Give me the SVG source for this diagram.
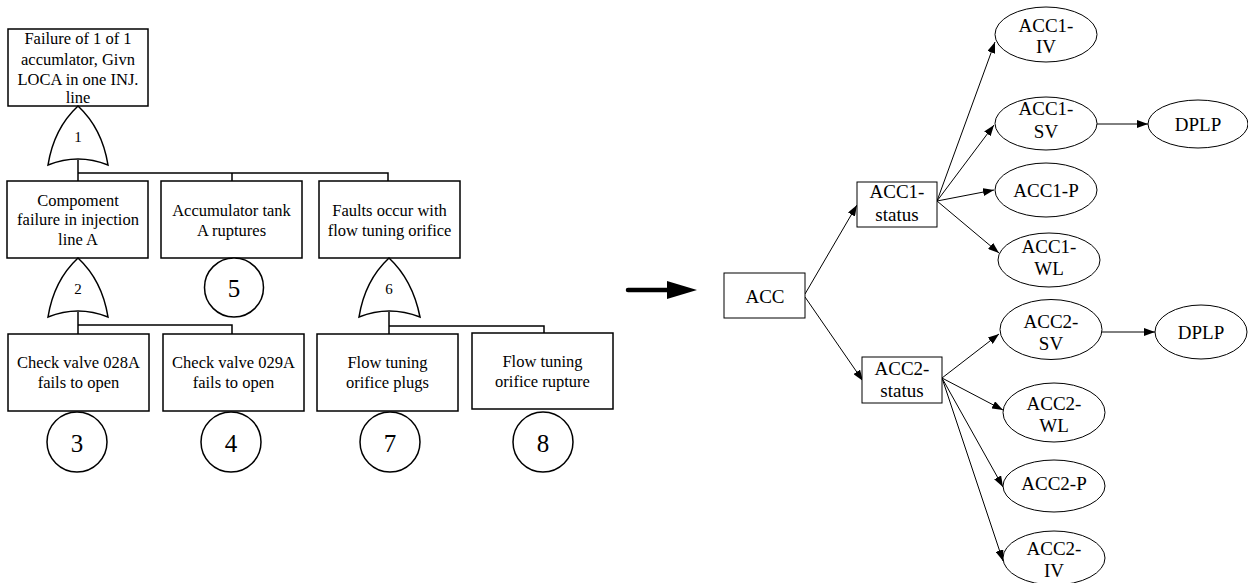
<svg xmlns="http://www.w3.org/2000/svg" width="1248" height="583" viewBox="0 0 1248 583">
<style>
.ft rect,.ft circle,.ft path{fill:#fff;stroke:#000;stroke-width:1.5}
.ft text{font-family:"Liberation Serif","Times New Roman",serif;font-size:16.5px;text-anchor:middle;fill:#000}
.ft text.num{font-size:25px}
.ft text.g{font-size:15px}
.tl{fill:none;stroke:#000;stroke-width:1.5}
.gn rect,.gn ellipse{fill:#fff;stroke:#000;stroke-width:1}
.gn text{font-family:"Liberation Serif","Times New Roman",serif;font-size:19px;text-anchor:middle;fill:#000}
.ed line{stroke:#000;stroke-width:1;marker-end:url(#ah)}
</style>
<defs>
<marker id="ah" markerUnits="userSpaceOnUse" markerWidth="11" markerHeight="8" refX="11" refY="4" orient="auto">
<path d="M0,0 L11,4 L0,8 z" fill="#000"/>
</marker>
</defs>

<!-- fault tree connectors -->
<g id="ft-connectors">
<path class="tl" d="M78,160 V181 M78,173 H388 V181 M232,173 V181"/>
<path class="tl" d="M78,312 V334 M78,325 H232 V334"/>
<path class="tl" d="M389,312 V334 M389,326 H544 V333"/>
</g>

<g id="ft-top" class="ft">
<rect x="8" y="29" width="140" height="77"/>
<text x="78" y="44">Failure of 1 of 1</text>
<text x="78" y="65">accumlator, Givn</text>
<text x="78" y="85">LOCA in one INJ.</text>
<text x="78" y="103">line</text>
</g>
<g id="ft-gate1" class="ft">
<path d="M78,106 C93,120 104,140 108,165 Q78,153 48,165 C52,140 63,120 78,106 Z"/>
<text class="g" x="78" y="142">1</text>
</g>
<g id="ft-comp" class="ft">
<rect x="7" y="181" width="141" height="77"/>
<text x="78" y="206">Compoment</text>
<text x="78" y="225">failure in injection</text>
<text x="78" y="245">line A</text>
</g>
<g id="ft-tank" class="ft">
<rect x="161" y="181" width="141" height="77"/>
<text x="231.5" y="216">Accumulator tank</text>
<text x="231.5" y="236">A ruptures</text>
</g>
<g id="ft-faults" class="ft">
<rect x="319" y="181" width="141" height="77"/>
<text x="389.5" y="216">Faults occur with</text>
<text x="389.5" y="236">flow tuning orifice</text>
</g>
<g id="ft-gate2" class="ft">
<path d="M78,258 C93,272 104,292 108,317 Q78,305 48,317 C52,292 63,272 78,258 Z"/>
<text class="g" x="78" y="294">2</text>
</g>
<g id="ft-e5" class="ft">
<circle cx="234" cy="287.5" r="29.5"/>
<text class="num" x="234" y="297">5</text>
</g>
<g id="ft-gate6" class="ft">
<path d="M389,258 C404,272 415,292 420,317 Q389,305 359,317 C363,292 374,272 389,258 Z"/>
<text class="g" x="389" y="294">6</text>
</g>
<g id="ft-cv028" class="ft">
<rect x="8" y="334" width="141" height="77"/>
<text x="78.5" y="368">Check valve 028A</text>
<text x="78.5" y="388">fails to open</text>
</g>
<g id="ft-cv029" class="ft">
<rect x="163" y="334" width="141" height="77"/>
<text x="233.5" y="368">Check valve 029A</text>
<text x="233.5" y="388">fails to open</text>
</g>
<g id="ft-plugs" class="ft">
<rect x="317" y="334" width="141" height="77"/>
<text x="387.5" y="368">Flow tuning</text>
<text x="387.5" y="388">orifice plugs</text>
</g>
<g id="ft-rupture" class="ft">
<rect x="472" y="333" width="141" height="76"/>
<text x="542.5" y="367">Flow tuning</text>
<text x="542.5" y="387">orifice rupture</text>
</g>
<g id="ft-e3" class="ft"><circle cx="77" cy="442" r="30"/><text class="num" x="77" y="452">3</text></g>
<g id="ft-e4" class="ft"><circle cx="231" cy="442" r="30"/><text class="num" x="231" y="452">4</text></g>
<g id="ft-e7" class="ft"><circle cx="390" cy="442" r="30"/><text class="num" x="390" y="452">7</text></g>
<g id="ft-e8" class="ft"><circle cx="543" cy="442" r="30"/><text class="num" x="543" y="452">8</text></g>

<!-- big transform arrow -->
<g id="big-arrow">
<line x1="628" y1="290" x2="668" y2="290" stroke="#000" stroke-width="4.5" stroke-linecap="round"/>
<path d="M667,281 L697,290 L667,299 Z" fill="#000"/>
</g>

<!-- graph connectors -->
<g id="connectors" class="ed">
<line x1="805" y1="294" x2="857" y2="205"/>
<line x1="805" y1="297" x2="863" y2="381"/>
<line x1="937" y1="201" x2="995" y2="42"/>
<line x1="937" y1="201" x2="994" y2="125"/>
<line x1="937" y1="201" x2="994" y2="190"/>
<line x1="937" y1="201" x2="999" y2="253"/>
<line x1="1097" y1="124" x2="1148" y2="124"/>
<line x1="942" y1="378" x2="999" y2="334"/>
<line x1="942" y1="378" x2="1003" y2="410"/>
<line x1="942" y1="378" x2="1003" y2="487"/>
<line x1="942" y1="378" x2="1003" y2="561"/>
<line x1="1102" y1="332" x2="1155" y2="332"/>
</g>

<g id="acc" class="gn"><rect x="724" y="273" width="81" height="45"/><text x="765" y="303">ACC</text></g>
<g id="acc1-status" class="gn"><rect x="857" y="182" width="80" height="45"/><text x="897" y="198">ACC1-</text><text x="897" y="221">status</text></g>
<g id="acc2-status" class="gn"><rect x="862" y="357" width="80" height="46"/><text x="902" y="375">ACC2-</text><text x="902" y="397">status</text></g>
<g id="acc1-iv" class="gn"><ellipse cx="1046" cy="34.5" rx="51" ry="27.5"/><text x="1046" y="32">ACC1-</text><text x="1046" y="53">IV</text></g>
<g id="acc1-sv" class="gn"><ellipse cx="1046" cy="123.5" rx="51" ry="26.5"/><text x="1046" y="115">ACC1-</text><text x="1046" y="138">SV</text></g>
<g id="dplp1" class="gn"><ellipse cx="1198" cy="124" rx="50" ry="24"/><text x="1198" y="131">DPLP</text></g>
<g id="acc1-p" class="gn"><ellipse cx="1046" cy="190" rx="51" ry="27"/><text x="1046" y="197">ACC1-P</text></g>
<g id="acc1-wl" class="gn"><ellipse cx="1049" cy="260" rx="51" ry="27"/><text x="1049" y="253">ACC1-</text><text x="1049" y="275">WL</text></g>
<g id="acc2-sv" class="gn"><ellipse cx="1051" cy="329.5" rx="51" ry="30"/><text x="1051" y="328">ACC2-</text><text x="1051" y="350">SV</text></g>
<g id="dplp2" class="gn"><ellipse cx="1201" cy="332" rx="46" ry="27"/><text x="1201" y="339">DPLP</text></g>
<g id="acc2-wl" class="gn"><ellipse cx="1054" cy="412.5" rx="51" ry="29.5"/><text x="1054" y="410">ACC2-</text><text x="1054" y="432">WL</text></g>
<g id="acc2-p" class="gn"><ellipse cx="1054" cy="486" rx="51" ry="26"/><text x="1054" y="490">ACC2-P</text></g>
<g id="acc2-iv" class="gn"><ellipse cx="1054" cy="558" rx="51" ry="27"/><text x="1054" y="555">ACC2-</text><text x="1054" y="577">IV</text></g>
</svg>
